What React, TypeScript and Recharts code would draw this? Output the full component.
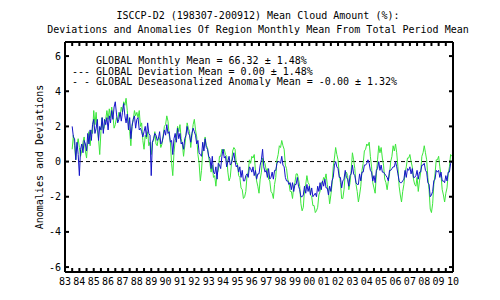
import React from "react"
import { LineChart, Line, XAxis, YAxis, ReferenceLine } from "recharts"

// ISCCP-D2 global mean cloud amount, monthly from 1983-07 to 2009-12
const START = 1983.5

// deviation of each monthly mean from the total period mean (green)
const deviation = [
  // 1983 (Jul-Dec)
  0.7, 1.5, 0.9, 0.1, 0.9, 1.3,
  // 1984
  0.8, 0.3, 0.6, 1.1, 1.4, 0.6, 0.2, 1.1, 1.7, 0.9, 1.8, 1.6,
  // 1985
  2.9, 2.1, 2.8, 1.8, 1.3, 0.4, 1.7, 2.5, 1.8, 2.0, 2.4, 2.9,
  // 1986
  2.4, 3.0, 2.5, 3.1, 2.6, 1.9, 2.1, 2.5, 2.3, 2.8, 2.6, 3.1,
  // 1987
  2.8, 3.4, 3.2, 3.6, 2.9, 2.1, 1.7, 0.9, 2.1, 2.4, 2.9, 2.6,
  // 1988
  2.8, 2.5, 2.9, 2.0, 2.2, 1.2, 0.7, 1.5, 1.3, 1.7, 0.9, 1.1,
  // 1989
  0.4, 1.1, 1.2, 1.7, 1.0, 0.9, 1.4, 1.3, 0.8, 1.0, 1.5, 2.0,
  // 1990
  2.1, 2.6, 2.3, 1.5, 1.1, -0.1, -0.8, 0.5, 1.2, 1.4, 2.0, 1.7,
  // 1991
  2.1, 1.3, 1.0, 0.3, 0.9, 1.5, 2.2, 1.9, 1.7, 0.8, 1.5, 2.1,
  // 1992
  2.4, 1.8, 1.4, 0.4, -0.1, -1.1, -0.5, 0.6, 0.8, 1.4, 0.9, 0.8,
  // 1993
  0.2, -0.1, -0.6, -0.2, -0.9, -0.8, -1.4, -0.7, -0.5, 0.3, 0.3, 0.7,
  // 1994
  0.6, 0.7, 0.4, 0.3, -0.6, -1.1, -0.9, -0.1, 0.6, 0.8, 0.7, -0.1,
  // 1995
  -0.1, -0.8, -0.9, -1.5, -1.6, -2.1, -2.0, -1.7, -0.8, -0.6, 0.1, -0.1,
  // 1996
  0.3, 0.2, 0.4, -0.5, -1.1, -1.4, -1.8, -1.0, -0.6, 0.2, 0.0, -0.1,
  // 1997
  -0.5, -0.4, -1.0, -1.1, -1.7, -1.8, -2.1, -1.3, -0.9, 0.1, 0.4, 0.9,
  // 1998
  0.8, 1.2, 0.9, 0.7, -0.2, -0.4, -1.0, -1.2, -1.7, -1.7, -2.1, -1.4,
  // 1999
  -1.2, -0.7, -0.7, -1.0, -1.4, -2.4, -2.8, -2.6, -1.6, -1.3, -0.8, -1.2,
  // 2000
  -1.3, -1.9, -2.0, -2.5, -2.5, -2.9, -2.8, -2.6, -1.9, -1.7, -1.2, -1.2,
  // 2001
  -0.9, -1.0, -0.7, -1.3, -1.7, -2.4, -1.9, -1.3, -0.3, 0.2, 0.8, 0.4,
  // 2002
  0.1, -0.7, -1.2, -2.1, -2.1, -1.6, -0.7, -0.6, -0.8, -1.6, -1.2, -0.5,
  // 2003
  0.5, 0.1, -0.4, -1.3, -1.7, -2.3, -1.9, -1.4, -0.5, -0.1, 0.6, 0.7,
  // 2004
  1.0, 0.9, 1.1, 0.3, -0.3, -1.2, -1.5, -1.8, -0.7, 0.1, 0.9, 0.5,
  // 2005
  0.8, 0.2, -0.2, -1.0, -1.2, -1.6, -1.1, -0.7, 0.0, 0.3, 0.9, 0.6,
  // 2006
  1.0, 0.5, -0.3, -1.4, -1.9, -2.3, -1.7, -1.3, -0.6, -0.3, 0.2, 0.2,
  // 2007
  0.4, 0.0, -0.3, -1.0, -1.3, -1.4, -0.9, -1.7, -1.1, -0.6, 0.3, 0.5,
  // 2008
  0.9, 0.5, 0.1, -0.9, -1.6, -2.7, -2.9, -2.4, -1.3, -0.7, 0.1, 0.1,
  // 2009
  0.3, -0.3, -0.8, -1.6, -1.9, -2.3, -1.8, -1.5, -0.7, -0.3, 0.4, 0.3,
]

// deseasonalized anomaly (blue)
const anomaly = [
  // 1983 (Jul-Dec)
  2.0, 1.4, 1.3, 0.1, 1.1, 0.4,
  // 1984
  -0.8, 0.7, 1.0, 0.5, 1.2, 1.0, 0.6, 1.6, 1.0, 1.8, 1.2, 2.1,
  // 1985
  2.4, 1.6, 1.9, 2.4, 1.2, 2.0, 1.8, 2.5, 1.6, 2.4, 2.1, 2.5,
  // 1986
  1.8, 2.6, 2.2, 2.9, 2.4, 3.1, 3.4, 2.7, 2.2, 2.4, 2.8, 2.3,
  // 1987
  2.8, 3.3, 2.6, 2.2, 2.7, 1.8, 2.5, 1.3, 2.0, 2.4, 2.6, 1.9,
  // 1988
  2.4, 2.5, 1.8, 1.9, 1.7, 1.4, 1.7, 2.0, 1.4, 2.2, 1.6, 1.5,
  // 1989
  -0.8, 1.1, 1.3, 1.6, 1.5, 1.2, 1.3, 1.7, 1.0, 1.1, 1.4, 1.8,
  // 1990
  1.5, 2.1, 1.6, 1.7, 1.1, 1.2, 0.4, 1.3, 1.6, 1.1, 1.9, 1.3,
  // 1991
  1.6, 1.0, 1.1, 0.7, 1.3, 1.5, 2.0, 1.6, 1.5, 1.1, 1.6, 1.9,
  // 1992
  1.7, 1.5, 1.0, 1.2, 0.5, 0.4, 0.3, 1.1, 0.6, 1.3, 0.8, 0.7,
  // 1993
  0.3, 0.2, -0.4, 0.3, -0.6, -0.7, -0.3, -1.0, -0.1, -0.2, -0.4, 0.3,
  // 1994
  0.7, 0.2, 0.3, -0.3, 0.0, 0.3, -0.2, -0.1, 0.2, 0.5, 0.0, -0.3,
  // 1995
  -0.2, -0.6, -0.3, -0.9, -0.5, -1.1, -1.1, -0.8, -0.7, -0.9, -0.3, -0.4,
  // 1996
  -0.6, -0.3, -0.8, -0.5, -1.0, -0.7, -0.7, -0.2, 0.1, 0.7, -0.3, -0.6,
  // 1997
  -0.5, -0.9, -0.4, -1.0, -0.9, -0.6, -1.0, -0.5, -0.5, -0.1, 0.0, 0.0,
  // 1998
  -0.1, 0.3, -0.2, -0.3, -0.9, -1.1, -1.1, -1.3, -1.2, -1.6, -1.2, -1.7,
  // 1999
  -1.3, -1.3, -0.9, -1.4, -1.6, -2.0, -2.0, -1.9, -1.4, -1.8, -1.3, -1.7,
  // 2000
  -1.4, -1.9, -1.5, -2.0, -1.9, -1.8, -2.0, -1.4, -1.7, -1.2, -1.6, -1.1,
  // 2001
  -1.4, -1.0, -1.5, -1.5, -1.9, -1.4, -1.7, -1.1, -0.9, -0.2, 0.0, -0.3,
  // 2002
  -0.4, -0.9, -0.9, -1.5, -1.1, -1.0, -0.5, -0.9, -1.0, -1.4, -0.8, -0.7,
  // 2003
  -0.2, -0.7, -0.8, -1.2, -1.3, -1.3, -0.7, -1.1, -0.6, -0.6, -0.2, -0.2,
  // 2004
  -0.1, 0.1, -0.1, -0.5, -0.6, -1.1, -0.8, -1.2, -0.5, -0.4, 0.0, -0.5,
  // 2005
  -0.2, -0.6, -0.6, -0.7, -0.8, -0.9, -1.1, -0.5, -0.5, -0.4, -0.3, -0.3,
  // 2006
  0.0, -0.3, -0.7, -1.1, -1.2, -1.2, -1.1, -1.0, -0.5, -0.9, -0.4, -0.5,
  // 2007
  -0.3, -0.7, -0.4, -0.9, -0.9, -0.8, -0.5, -1.0, -0.6, -0.6, -0.2, -0.2,
  // 2008
  -0.1, -0.5, -0.6, -1.2, -1.3, -2.0, -1.9, -1.7, -1.1, -1.0, -0.5, -0.6,
  // 2009
  -0.5, -0.9, -0.6, -1.1, -1.1, -1.2, -0.8, -1.1, -0.6, -0.6, -0.1, 0.0,
]

const yearLabels = [
  "83", "84", "85", "86", "87", "88", "89", "90", "91", "92", "93", "94", "95", "96",
  "97", "98", "99", "00", "01", "02", "03", "04", "05", "06", "07", "08", "09", "10",
]
const yTicks = [-6, -4, -2, 0, 2, 4, 6]

const titleLines = [
  "ISCCP-D2 (198307-200912) Mean Cloud Amount (%):",
  "Deviations and Anomalies Of Region Monthly Mean From Total Period Mean",
]
const legendLines = [
  "    GLOBAL Monthly Mean = 66.32 ± 1.48%",
  "--- GLOBAL Deviation Mean = 0.00 ± 1.48%",
  "- - GLOBAL Deseasonalized Anomaly Mean = -0.00 ± 1.32%",
]

const FONT = "'DejaVu Sans Mono', monospace"

const chartData = deviation.map((d, i) => ({
  t: START + i / 12,
  deviation: d,
  anomaly: anomaly[i],
}))

// a tick every half year, labels only on whole years
const xTicks: number[] = []
yearLabels.forEach((_, i) => {
  xTicks.push(1983 + i)
  if (i < yearLabels.length - 1) xTicks.push(1983 + i + 0.5)
})

const yearText = (v: number) => (Number.isInteger(v) ? yearLabels[v - 1983] : "")

const tickStyle = { fontFamily: FONT, fontSize: 10, fill: "#000" }

export default function App() {
  return (
    <div style={{ position: "absolute", left: 0, top: 0, width: 500, height: 300, background: "#fff" }}>
      <LineChart width={500} height={300} data={chartData} margin={{ top: 41, right: 46, bottom: 8, left: 35 }}>
        <XAxis
          xAxisId="b"
          dataKey="t"
          type="number"
          domain={[1983, 2010]}
          ticks={xTicks}
          interval={0}
          tickFormatter={yearText}
          height={20}
          tickSize={-4}
          tickMargin={10}
          tick={tickStyle}
          axisLine={{ stroke: "#000", strokeWidth: 2 }}
          tickLine={{ stroke: "#000", strokeWidth: 2 }}
        />
        <XAxis
          xAxisId="t"
          orientation="top"
          dataKey="t"
          type="number"
          domain={[1983, 2010]}
          ticks={xTicks}
          interval={0}
          tickFormatter={() => ""}
          height={1}
          tickSize={-4}
          axisLine={{ stroke: "#000", strokeWidth: 2 }}
          tickLine={{ stroke: "#000", strokeWidth: 2 }}
        />
        <YAxis
          yAxisId="l"
          type="number"
          domain={[-6.28, 6.8]}
          ticks={yTicks}
          interval={0}
          allowDataOverflow
          width={30}
          tickSize={-4}
          tickMargin={8}
          tick={tickStyle}
          axisLine={{ stroke: "#000", strokeWidth: 2 }}
          tickLine={{ stroke: "#000", strokeWidth: 2 }}
        />
        <YAxis
          yAxisId="r"
          orientation="right"
          type="number"
          domain={[-6.28, 6.8]}
          ticks={yTicks}
          interval={0}
          allowDataOverflow
          width={1}
          tickSize={-4}
          tickFormatter={() => ""}
          axisLine={{ stroke: "#000", strokeWidth: 2 }}
          tickLine={{ stroke: "#000", strokeWidth: 2 }}
        />
        <ReferenceLine xAxisId="b" yAxisId="l" y={0} stroke="#000" strokeDasharray="4 3" />
        <Line
          xAxisId="b"
          yAxisId="l"
          type="linear"
          dataKey="deviation"
          stroke="#3ce63c"
          strokeWidth={1}
          dot={false}
          isAnimationActive={false}
        />
        <Line
          xAxisId="b"
          yAxisId="l"
          type="linear"
          dataKey="anomaly"
          stroke="#1414c8"
          strokeWidth={1}
          dot={false}
          isAnimationActive={false}
        />
      </LineChart>

      <div
        style={{
          position: "absolute",
          left: 8,
          top: 9,
          width: 500,
          textAlign: "center",
          fontFamily: FONT,
          fontSize: 10,
          lineHeight: "14px",
          whiteSpace: "pre",
        }}
      >
        {titleLines.map((l) => (
          <div key={l}>{l}</div>
        ))}
      </div>

      <div
        style={{
          position: "absolute",
          left: 72,
          top: 56,
          fontFamily: FONT,
          fontSize: 10,
          lineHeight: "10.5px",
          whiteSpace: "pre",
        }}
      >
        {legendLines.map((l) => (
          <div key={l}>{l}</div>
        ))}
      </div>

      <div
        style={{
          position: "absolute",
          left: 39,
          top: 157,
          transform: "translate(-50%, -50%) rotate(-90deg)",
          fontFamily: FONT,
          fontSize: 10,
          whiteSpace: "nowrap",
        }}
      >
        Anomalies and Deviations
      </div>
    </div>
  )
}
